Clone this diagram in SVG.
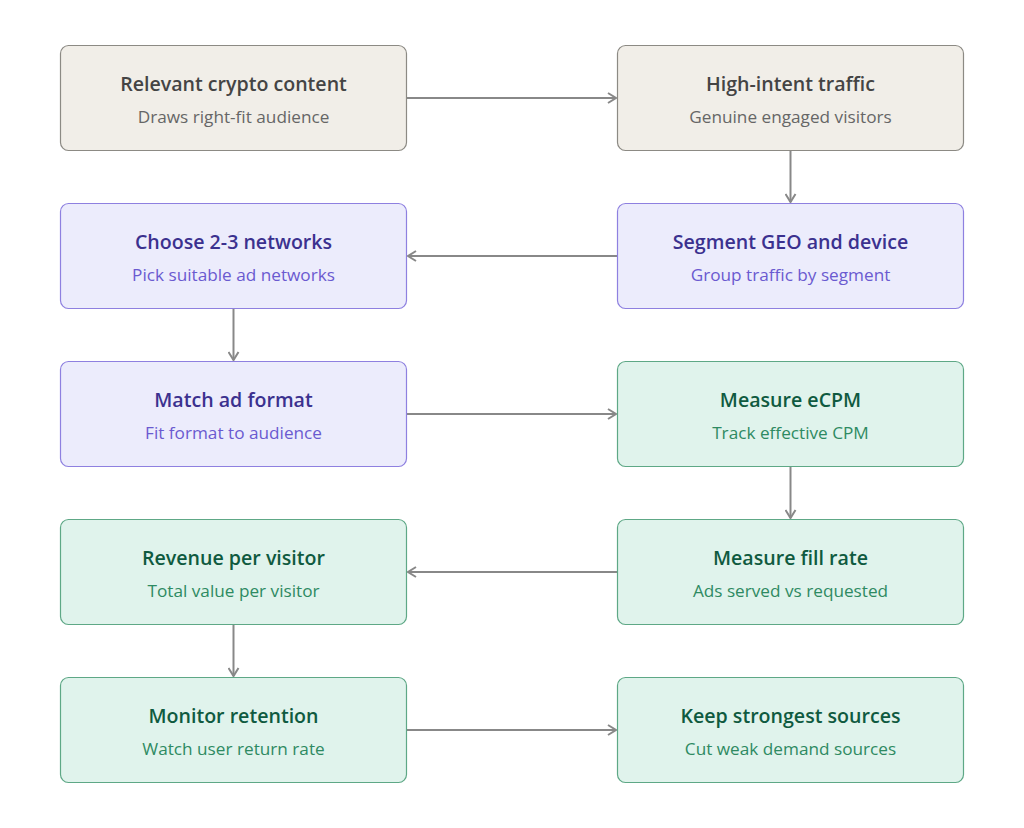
<svg xmlns="http://www.w3.org/2000/svg" width="1024" height="828" viewBox="0 0 1024 828">
<defs>
<marker id="arr" markerWidth="12" markerHeight="12" refX="10" refY="6" orient="auto" markerUnits="userSpaceOnUse">
<path d="M2,1 L10,6 L2,11" fill="none" stroke="#888" stroke-width="2"/>
</marker>
<style>
.box{stroke-width:1.2}
.beige{fill:#f1eee8;stroke:#8c8a84}
.purple{fill:#ececfc;stroke:#8e80e0}
.green{fill:#e0f3ec;stroke:#5ea886}
.t{font-family:"Open Sans","Noto Sans","Liberation Sans",sans-serif;font-size:19.6px;font-weight:600;text-anchor:middle}
.s{font-family:"Open Sans","Noto Sans","Liberation Sans",sans-serif;font-size:17.2px;text-anchor:middle}
.tb{fill:#444}
.sb{fill:#666}
.tp{fill:#3b318f}
.sp{fill:#6a5ad0}
.tg{fill:#0f5a40}
.sg{fill:#2e8a62}
.c{fill:none;stroke:#888;stroke-width:2;marker-end:url(#arr)}
</style>
</defs>
<rect width="1024" height="828" fill="#fff"/>
<g id="connectors">
<line class="c" x1="407" y1="98" x2="616" y2="98"/>
<line class="c" x1="790.5" y1="151" x2="790.5" y2="202"/>
<line class="c" x1="617" y1="256" x2="408" y2="256"/>
<line class="c" x1="233.5" y1="309" x2="233.5" y2="360"/>
<line class="c" x1="407" y1="414" x2="616" y2="414"/>
<line class="c" x1="790.5" y1="467" x2="790.5" y2="518"/>
<line class="c" x1="617" y1="572" x2="408" y2="572"/>
<line class="c" x1="233.5" y1="625" x2="233.5" y2="676"/>
<line class="c" x1="407" y1="730" x2="616" y2="730"/>
</g>
<g id="n1">
<rect class="box beige" x="60.5" y="45.5" width="346" height="105" rx="8"/>
<text class="t tb" x="233.5" y="91">Relevant crypto content</text>
<text class="s sb" x="233.5" y="123">Draws right-fit audience</text>
</g>
<g id="n2">
<rect class="box beige" x="617.5" y="45.5" width="346" height="105" rx="8"/>
<text class="t tb" x="790.5" y="91">High-intent traffic</text>
<text class="s sb" x="790.5" y="123">Genuine engaged visitors</text>
</g>
<g id="n3">
<rect class="box purple" x="617.5" y="203.5" width="346" height="105" rx="8"/>
<text class="t tp" x="790.5" y="249">Segment GEO and device</text>
<text class="s sp" x="790.5" y="281">Group traffic by segment</text>
</g>
<g id="n4">
<rect class="box purple" x="60.5" y="203.5" width="346" height="105" rx="8"/>
<text class="t tp" x="233.5" y="249">Choose 2-3 networks</text>
<text class="s sp" x="233.5" y="281">Pick suitable ad networks</text>
</g>
<g id="n5">
<rect class="box purple" x="60.5" y="361.5" width="346" height="105" rx="8"/>
<text class="t tp" x="233.5" y="407">Match ad format</text>
<text class="s sp" x="233.5" y="439">Fit format to audience</text>
</g>
<g id="n6">
<rect class="box green" x="617.5" y="361.5" width="346" height="105" rx="8"/>
<text class="t tg" x="790.5" y="407">Measure eCPM</text>
<text class="s sg" x="790.5" y="439">Track effective CPM</text>
</g>
<g id="n7">
<rect class="box green" x="617.5" y="519.5" width="346" height="105" rx="8"/>
<text class="t tg" x="790.5" y="565">Measure fill rate</text>
<text class="s sg" x="790.5" y="597">Ads served vs requested</text>
</g>
<g id="n8">
<rect class="box green" x="60.5" y="519.5" width="346" height="105" rx="8"/>
<text class="t tg" x="233.5" y="565">Revenue per visitor</text>
<text class="s sg" x="233.5" y="597">Total value per visitor</text>
</g>
<g id="n9">
<rect class="box green" x="60.5" y="677.5" width="346" height="105" rx="8"/>
<text class="t tg" x="233.5" y="723">Monitor retention</text>
<text class="s sg" x="233.5" y="755">Watch user return rate</text>
</g>
<g id="n10">
<rect class="box green" x="617.5" y="677.5" width="346" height="105" rx="8"/>
<text class="t tg" x="790.5" y="723">Keep strongest sources</text>
<text class="s sg" x="790.5" y="755">Cut weak demand sources</text>
</g>
</svg>
